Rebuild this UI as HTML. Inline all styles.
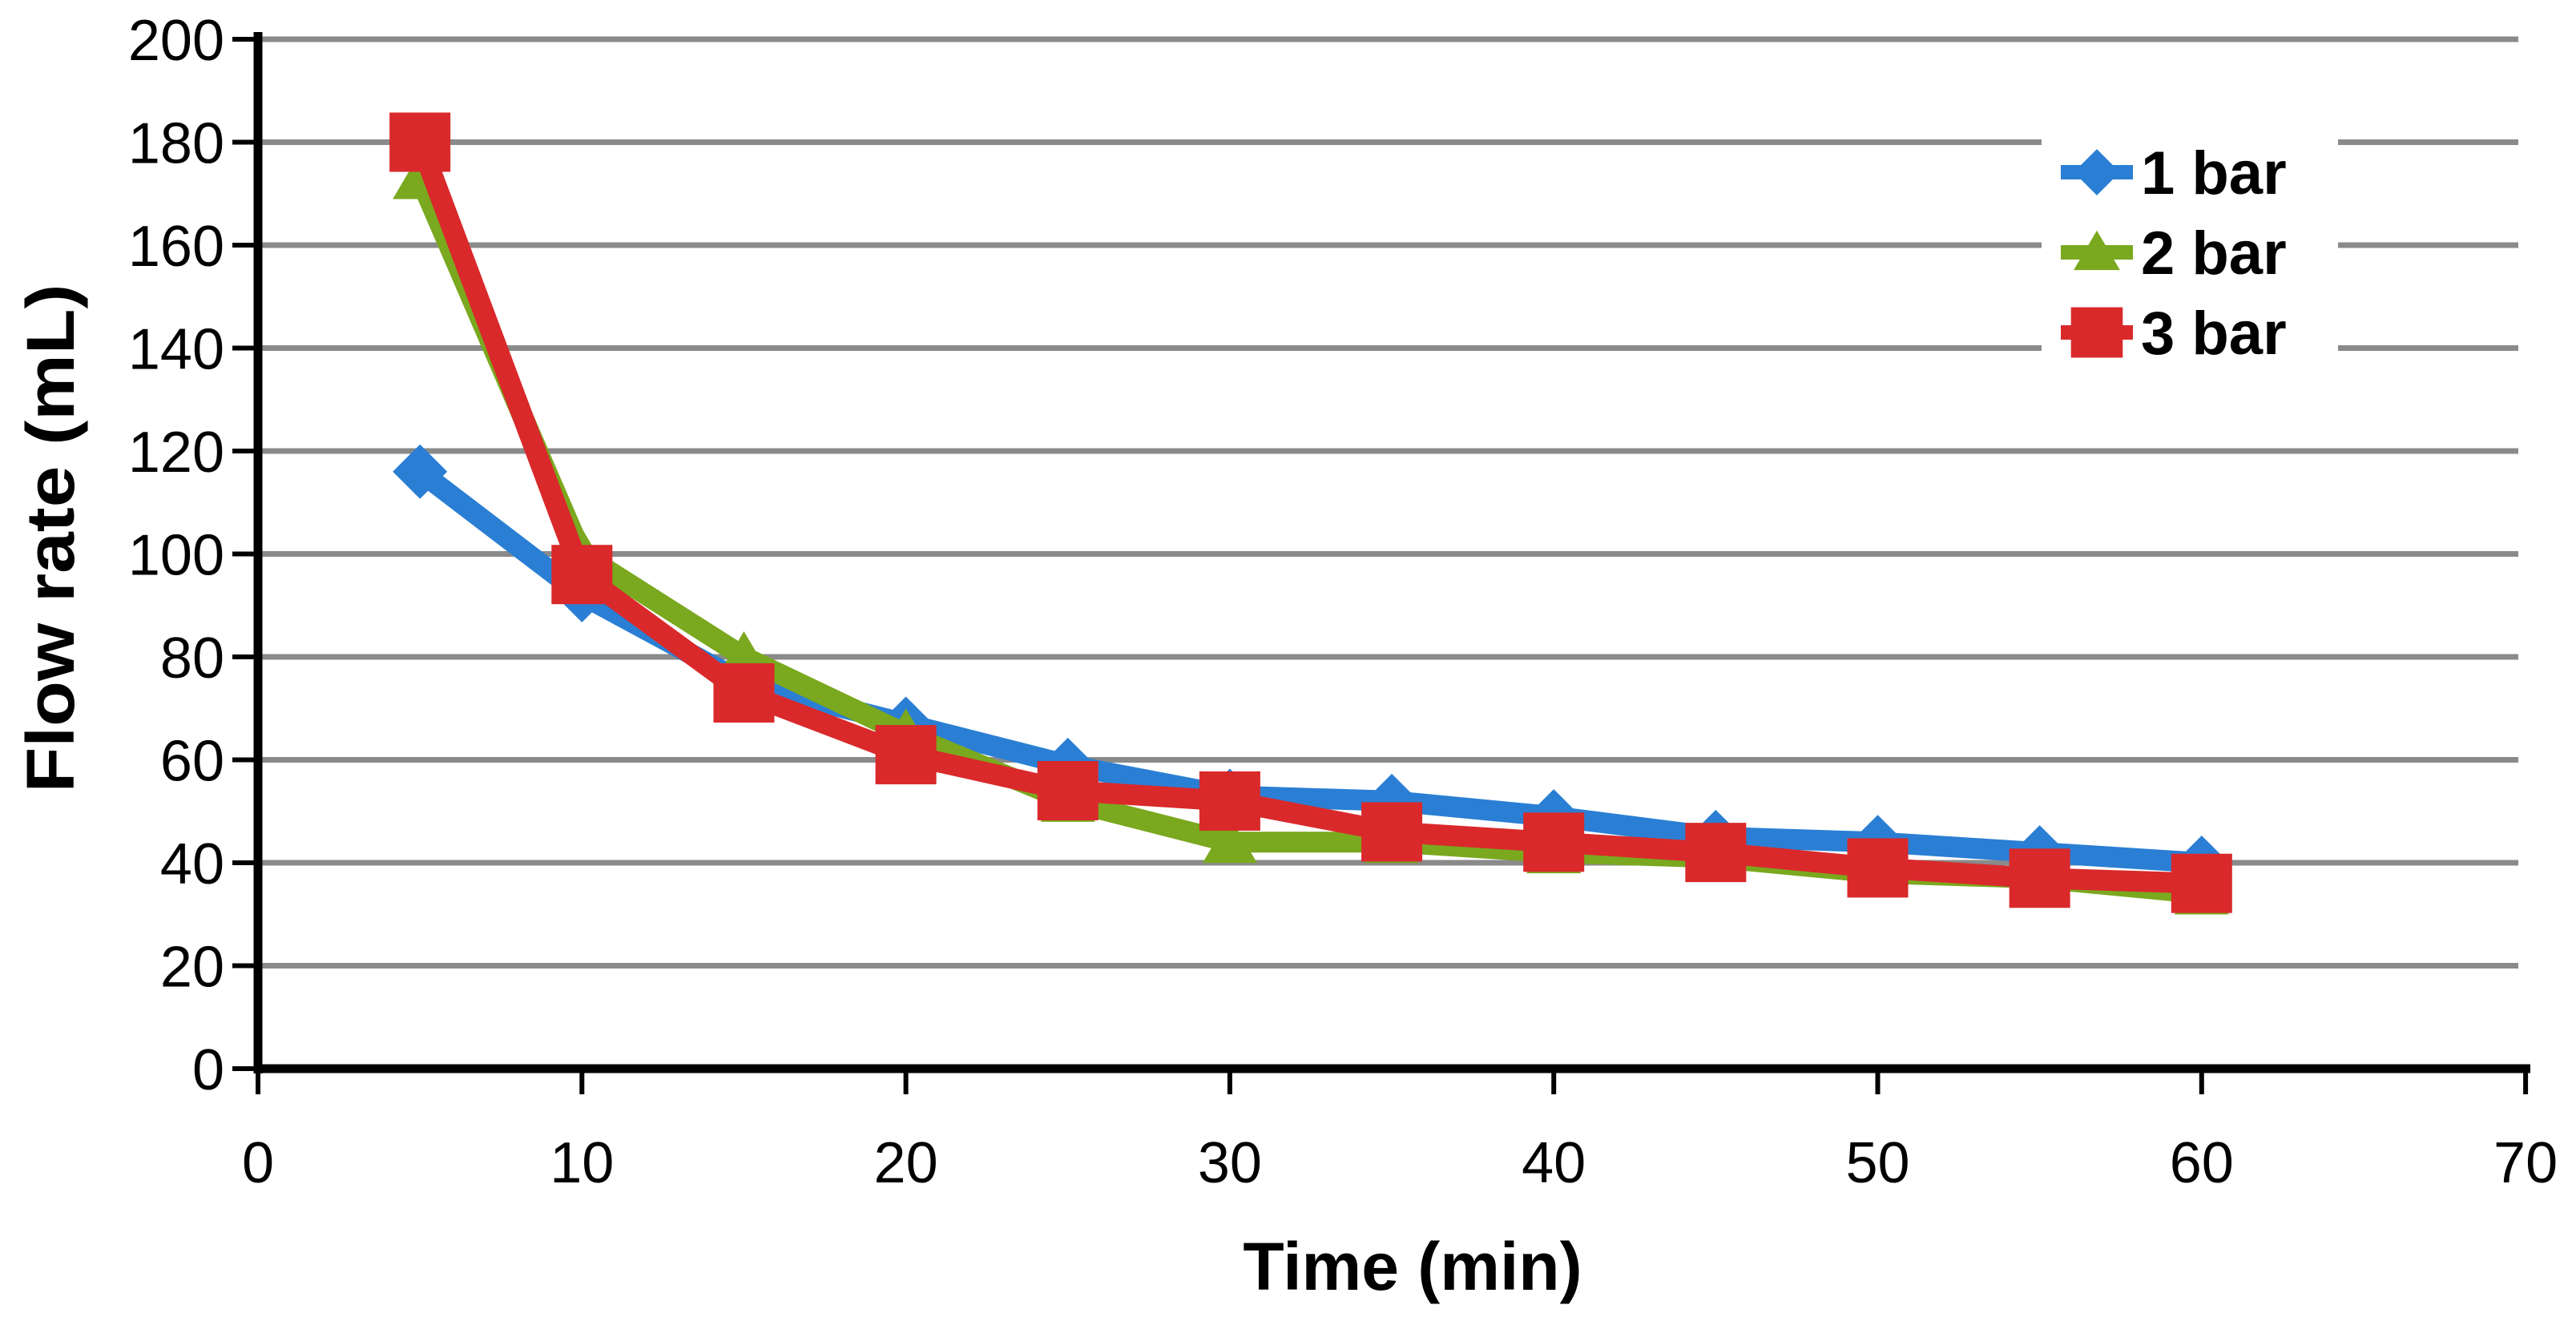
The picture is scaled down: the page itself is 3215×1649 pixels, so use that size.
<!DOCTYPE html>
<html><head><meta charset="utf-8"><style>html,body{margin:0;padding:0;background:#fff}svg{display:block}</style></head>
<body>
<svg id="chart" width="3215" height="1649" viewBox="0 0 3215 1649" xmlns="http://www.w3.org/2000/svg" font-family="Liberation Sans, sans-serif">
<g id="grid"></g>
<g id="axes"></g>
<g id="series"></g>
<g id="legend"></g>
<text x="1763" y="1610" font-size="84" font-weight="bold" text-anchor="middle">Time (min)</text>
<text transform="translate(92,672) rotate(-90)" font-size="84" font-weight="bold" text-anchor="middle" textLength="635" lengthAdjust="spacingAndGlyphs">Flow rate (mL)</text>
</svg>
<script>
const times = [5,10,15,20,25,30,35,40,45,50,55,60];
const bar1 = [116,92,75,67,59,53,52,49,45,44,42,40];
const bar2 = [173,100,80,65,52,44,44,42,41,38,37,34];
const bar3 = [180,96,73,61,54,52,46,44,42,39,37,36];
const xTicks = [0,10,20,30,40,50,60,70];
const yTicks = [0,20,40,60,80,100,120,140,160,180,200];
const seriesNames = ['1 bar','2 bar','3 bar'];

const NS='http://www.w3.org/2000/svg';
const X=v=>322+v*40.43;
const Y=v=>1334-v*(1285/200);
function mk(tag,attrs,parent){const e=document.createElementNS(NS,tag);for(const k in attrs)e.setAttribute(k,attrs[k]);parent.appendChild(e);return e;}
const grid=document.getElementById('grid'),axes=document.getElementById('axes'),ser=document.getElementById('series'),leg=document.getElementById('legend');

yTicks.forEach(t=>{
  if(t>0){const g=mk('line',{x1:X(0),x2:3143,y1:Y(t),y2:Y(t),stroke:'#8a8a8a','stroke-width':7},grid);
  
  }
  const tk=mk('line',{x1:290,x2:X(0),y1:Y(t),y2:Y(t),stroke:'#000','stroke-width':6},axes);
  
  
  const l=mk('text',{x:280,y:Y(t)+26,'font-size':72,'text-anchor':'end'},axes);l.textContent=t;
  
  
});
xTicks.forEach(t=>{
  const tk=mk('line',{x1:X(t),x2:X(t),y1:Y(0),y2:1366,stroke:'#000','stroke-width':6},axes);
  
  
  const l=mk('text',{x:X(t),y:1476,'font-size':72,'text-anchor':'middle'},axes);l.textContent=t;
  
  
});
const ya=mk('line',{x1:X(0),x2:X(0),y1:40,y2:1340,stroke:'#000','stroke-width':11},axes);


const xa=mk('line',{x1:X(0)-5,x2:3158,y1:Y(0),y2:Y(0),stroke:'#000','stroke-width':11},axes);



const colors=['#2a7fd4','#7aa81e','#d9292b'];
function marker(i,cx,cy,parent,s){
  if(i===0)return mk('polygon',{points:`${cx},${cy-34*s} ${cx+34*s},${cy} ${cx},${cy+34*s} ${cx-34*s},${cy}`,fill:colors[0]},parent);
  if(i===1)return mk('polygon',{points:`${cx},${cy-32*s} ${cx+34*s},${cy+26*s} ${cx-34*s},${cy+26*s}`,fill:colors[1]},parent);
  return mk('rect',{x:cx-38*s,y:cy-37*s,width:76*s,height:74*s,fill:colors[2]},parent);
}
[bar1,bar2,bar3].forEach((d,i)=>{
  const g=mk('g',{},ser);
  
  
  const pl=mk('polyline',{points:d.map((v,j)=>X(times[j])+','+Y(v)).join(' '),fill:'none',stroke:colors[i],'stroke-width':26,'stroke-linejoin':'round'},g);
  
  
  d.forEach((v,j)=>{const m=marker(i,X(times[j]),Y(v),g,1);
    
    });
});
mk('rect',{x:2548,y:150,width:370,height:320,fill:'#fff'},leg);
seriesNames.forEach((n,i)=>{
  const y=215+i*100;
  const e=mk('g',{},leg);
  
  
  mk('line',{x1:2572,x2:2662,y1:y,y2:y,stroke:colors[i],'stroke-width':18},e);
  marker(i,2617,y,e,0.85);
  const t=mk('text',{x:2672,y:y+27,'font-size':76,'font-weight':'bold'},e);t.textContent=n;
});
</script>
</body></html>
